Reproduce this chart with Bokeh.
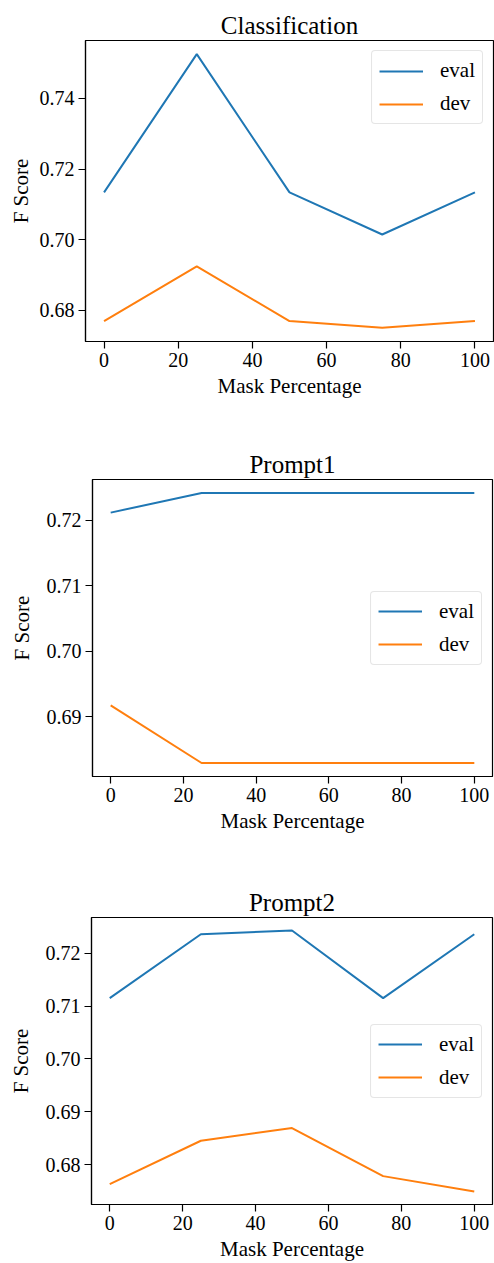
from bokeh.plotting import figure
from bokeh.models import Range1d, FixedTicker, NumeralTickFormatter, Legend, LegendItem
from bokeh.embed import file_html
from bokeh.resources import INLINE

# ---- data ----
mask_pct = [0, 25, 50, 75, 100]
x_ticks = [0, 20, 40, 60, 80, 100]

cls_eval = [0.7134, 0.7525, 0.7134, 0.7015, 0.7134]
cls_dev = [0.6770, 0.6925, 0.6770, 0.6751, 0.6770]
cls_yticks = [0.68, 0.70, 0.72, 0.74]

p1_eval = [0.7212, 0.7242, 0.7242, 0.7242, 0.7242]
p1_dev = [0.6917, 0.6829, 0.6829, 0.6829, 0.6829]
p1_yticks = [0.69, 0.70, 0.71, 0.72]

p2_eval = [0.7115, 0.7236, 0.7243, 0.7115, 0.7236]
p2_dev = [0.6763, 0.6845, 0.6869, 0.6778, 0.6749]
p2_yticks = [0.68, 0.69, 0.70, 0.71, 0.72]

titles = ["Classification", "Prompt1", "Prompt2"]
series_names = ["eval", "dev"]
colors = ["#1f77b4", "#ff7f0e"]

FONT = "Liberation Serif"


def make_panel(title, ev, dv, yticks, width, height, bl, br, bt, bb, legend_loc, ylab_standoff):
    lo = min(ev + dv)
    hi = max(ev + dv)
    span = hi - lo
    p = figure(width=width, height=height, output_backend="svg", toolbar_location=None,
               x_range=Range1d(-5, 105), y_range=Range1d(lo - 0.05 * span, hi + 0.05 * span),
               min_border_left=bl, min_border_right=br, min_border_top=bt, min_border_bottom=bb)
    p.title.text = title
    p.title.text_font = FONT
    p.title.text_font_size = "25px"
    p.title.text_font_style = "normal"
    p.title.align = "center"
    p.title.text_color = "black"
    p.title.standoff = 3

    r1 = p.line(mask_pct, ev, line_color=colors[0], line_width=2)
    r2 = p.line(mask_pct, dv, line_color=colors[1], line_width=2)

    p.xgrid.visible = False
    p.ygrid.visible = False
    p.outline_line_color = "black"
    p.outline_line_width = 1.2
    p.outline_line_alpha = 1.0

    p.xaxis.ticker = FixedTicker(ticks=x_ticks)
    p.yaxis.ticker = FixedTicker(ticks=yticks)
    p.yaxis.formatter = NumeralTickFormatter(format="0.00")
    p.xaxis.axis_label = "Mask Percentage"
    p.yaxis.axis_label = "F Score"
    for ax in (p.xaxis, p.yaxis):
        ax.axis_line_color = "black"
        ax.axis_line_width = 1.2
        ax.major_tick_line_color = "black"
        ax.major_tick_line_width = 1.2
        ax.major_tick_out = 7
        ax.major_tick_in = 0
        ax.minor_tick_line_color = None
        ax.major_label_text_font = FONT
        ax.major_label_text_font_size = "20px"
        ax.major_label_text_color = "black"
        ax.major_label_standoff = 4
        ax.axis_label_text_font = FONT
        ax.axis_label_text_font_size = "21px"
        ax.axis_label_text_font_style = "normal"
        ax.axis_label_text_color = "black"
    p.xaxis.axis_label_standoff = 4
    p.yaxis.axis_label_standoff = ylab_standoff

    legend = Legend(items=[LegendItem(label=series_names[0], renderers=[r1]),
                           LegendItem(label=series_names[1], renderers=[r2])],
                    location=legend_loc)
    legend.label_text_font = FONT
    legend.label_text_font_size = "21px"
    legend.label_text_color = "black"
    legend.glyph_width = 44
    legend.glyph_height = 22
    legend.label_height = 22
    legend.label_standoff = 17
    legend.spacing = 8
    legend.padding = 7
    legend.margin = 10
    legend.border_line_color = "#cccccc"
    legend.border_line_width = 1
    legend.background_fill_alpha = 0.8
    if "border_radius" in legend.properties():
        legend.border_radius = 4
    p.add_layout(legend)
    return p


f1 = make_panel(titles[0], cls_eval, cls_dev, cls_yticks, 494, 428, 85, 1, 40, 87, "top_right", 4)
f2 = make_panel(titles[1], p1_eval, p1_dev, p1_yticks, 494, 438, 92, 2, 51, 90, "center_right", 10)
f3 = make_panel(titles[2], p2_eval, p2_dev, p2_yticks, 494, 397, 91, 2, 51, 51, "center_right", 10)

open("out.html", "w").write(file_html([f1, f2, f3], INLINE))
